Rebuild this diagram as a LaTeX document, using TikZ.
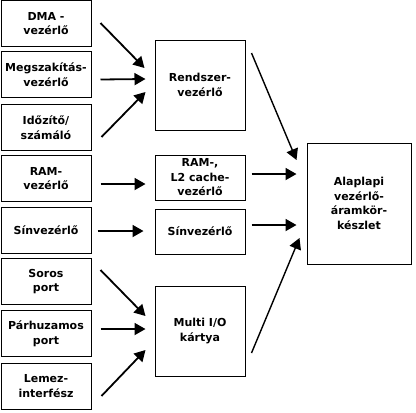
\documentclass[tikz,border=0pt]{standalone}
\usepackage{fontspec}
\setmainfont{DejaVu Sans}
\usetikzlibrary{arrows.meta,calc}
\begin{document}
\begin{tikzpicture}[x=1pt,y=-1pt,
  box/.style={draw=black,line width=1pt,align=center,inner sep=0pt,
    font=\bfseries\fontsize{11}{14.5}\selectfont},
  lbox/.style={box,minimum width=90pt,minimum height=46pt},
  arr/.style={line width=1.8pt,-{Triangle[length=11pt,width=12pt]}},
  arrb/.style={line width=1.4pt,-{Triangle[length=11pt,width=12pt]}}]
\useasboundingbox (0,0) rectangle (416,413);
\fill[white] (0,0) rectangle (416,413);
\node[lbox] (dma) at (46,23.5) {DMA -\\vezérlő};
\node[lbox] (megsz) at (46,74.5) {Megszakítás-\\vezérlő};
\node[lbox] (ido) at (46,127.5) {Időzítő/\\számáló};
\node[lbox] (ram) at (46,178.5) {RAM-\\vezérlő};
\node[lbox] (sin) at (46,230.5) {Sínvezérlő};
\node[lbox] (soros) at (46,281.5) {Soros\\port};
\node[lbox] (parh) at (46,333.5) {Párhuzamos\\port};
\node[lbox] (lemez) at (46,386) {Lemez-\\interfész};
\node[box,minimum width=90pt,minimum height=90pt] (rend) at (200,85) {Rendszer-\\vezérlő};
\node[box,minimum width=90pt,minimum height=45pt] (ram2) at (200,177.5) {RAM-,\\L2 cache-\\vezérlő};
\node[box,minimum width=90pt,minimum height=45pt] (sin2) at (200,231.5) {Sínvezérlő};
\node[box,minimum width=90pt,minimum height=90pt] (multi) at (200,331) {Multi I/O\\kártya};
\node[box,minimum width=104pt,minimum height=121pt] (alap) at (359,203.5) {Alaplapi\\vezérlő-\\áramkör-\\készlet};
\draw[arr] ($(dma.east)+(9,-0.5)$) -- ($(rend.west)+(-10,-17)$);
\draw[arr] ($(megsz.east)+(9,5)$) -- ($(rend.west)+(-9,-6)$);
\draw[arr] ($(ido.east)+(10,9.5)$) -- ($(rend.west)+(-9,7)$);
\draw[arr] ($(ram.east)+(9,5.5)$) -- ($(ram2.west)+(-9,6.5)$);
\draw[arr] ($(sin.east)+(6,0.5)$) -- ($(sin2.west)+(-11,-0.5)$);
\draw[arr] ($(soros.east)+(9,-11.5)$) -- ($(multi.west)+(-9,-15)$);
\draw[arr] ($(parh.east)+(9,-4.5)$) -- ($(multi.west)+(-9,-2)$);
\draw[arr] ($(lemez.east)+(10,10)$) -- ($(multi.west)+(-9,19)$);
\draw[arrb] ($(rend.east)+(6,-32)$) -- ($(alap.west)+(-10,-43.5)$);
\draw[arr] ($(ram2.east)+(6,-3.5)$) -- ($(alap.west)+(-10,-29.5)$);
\draw[arr] ($(sin2.east)+(6,-6.5)$) -- ($(alap.west)+(-10,21.5)$);
\draw[arrb] ($(multi.east)+(6,22)$) -- ($(alap.west)+(-7,34.5)$);
\end{tikzpicture}
\end{document}
